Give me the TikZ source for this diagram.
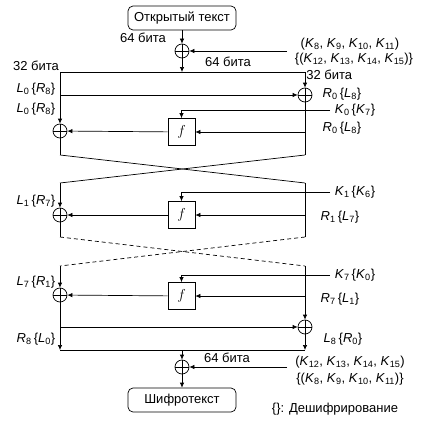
\documentclass[tikz,border=0pt]{standalone}
\usepackage{fontspec}
\setmainfont{Liberation Sans}
\usetikzlibrary{arrows.meta}
\tikzset{
 xor/.style={circle,draw,minimum size=14pt,inner sep=0pt,
   path picture={\draw (path picture bounding box.north)--(path picture bounding box.south)
     (path picture bounding box.west)--(path picture bounding box.east);}},
 fbox/.style={draw,minimum size=27pt,inner sep=0pt,font=\fontsize{14}{16}\selectfont},
 tbox/.style={draw,rounded corners=5pt,minimum width=108pt,minimum height=24pt,inner sep=0pt,font=\fontsize{13}{15}\selectfont},
 lbl/.style={inner sep=0pt,font=\fontsize{13}{15}\selectfont},
 arr/.style={-{Latex[length=5pt,width=4.5pt]}},
}
\newcommand\ix[2]{\textit{#1}\textsubscript{#2}}
\begin{document}
\begin{tikzpicture}[x=1pt,y=-1pt,line width=0.7pt]
\useasboundingbox (0,0) rectangle (425,428);
% nodes
\node[tbox] (pt) at (182,18) {Открытый текст};
\node[xor] (x0) at (182,51) {};
\node[xor] (xR1) at (305,95) {};
\node[xor] (xL1) at (60,131) {};
\node[fbox] (f1) at (181.5,132) {$f$};
\node[xor] (xL2) at (60,215) {};
\node[fbox] (f2) at (181.5,215) {$f$};
\node[xor] (xL3) at (60,295) {};
\node[fbox] (f3) at (181.5,296) {$f$};
\node[xor] (xR3) at (305,327) {};
\node[xor] (x4) at (182,367) {};
\node[tbox] (ct) at (182,400) {Шифротекст};
% coordinates
\coordinate (k0s) at (287,51);
\coordinate (hl) at (60,72);
\coordinate (hm) at (182,72);
\coordinate (hr) at (305,72);
\coordinate (a1) at (60,95);
\coordinate (k0e) at (330,110);
\coordinate (r1) at (305,132);
\coordinate (c1l) at (60,155);
\coordinate (c1r) at (305,155);
\coordinate (c2l) at (60,183);
\coordinate (c2r) at (305,183);
\coordinate (k1e) at (330,192);
\coordinate (r2) at (305,215);
\coordinate (c3l) at (60,237);
\coordinate (c3r) at (305,237);
\coordinate (c4l) at (60,266);
\coordinate (c4r) at (305,266);
\coordinate (k7e) at (330,275);
\coordinate (r3) at (305,296);
\coordinate (a3) at (60,327);
\coordinate (bl) at (60,350);
\coordinate (bm) at (182,350);
\coordinate (br) at (305,350);
\coordinate (k4s) at (287,367);
% connectors
\draw[arr] (pt) -- (x0);
\draw[arr] (k0s) -- (x0);
\draw[arr] (x0) -- (hm);
\draw (hl) -- (hr);
\draw[arr] (hl) -- (xL1);
\draw[arr] (hr) -- (xR1);
\draw[arr] (a1) -- (xR1);
\draw[arr] (k0e) -| (f1);
\draw[arr] (r1) -- (f1);
\draw[arr] (f1) -- (xL1);
\draw (xR1) -- (c1r);
\draw (xL1) -- (c1l);
\draw (c1l) -- (c2r);
\draw (c1r) -- (c2l);
\draw[arr] (c2l) -- (xL2);
\draw (c2r) -- (c3r);
\draw[arr] (k1e) -| (f2);
\draw[arr] (r2) -- (f2);
\draw[arr] (f2) -- (xL2);
\draw (xL2) -- (c3l);
\draw[dash pattern=on 4pt off 3pt] (c3l) -- (c4r);
\draw[dash pattern=on 4pt off 3pt] (c3r) -- (c4l);
\draw[arr] (c4l) -- (xL3);
\draw[arr] (c4r) -- (xR3);
\draw[arr] (k7e) -| (f3);
\draw[arr] (r3) -- (f3);
\draw[arr] (f3) -- (xL3);
\draw[arr] (xL3) -- (bl);
\draw[arr] (a3) -- (xR3);
\draw[arr] (xR3) -- (br);
\draw (bl) -- (br);
\draw[arr] (bm) -- (x4);
\draw[arr] (k4s) -- (x4);
\draw[arr] (x4) -- (ct);
% labels
\node[lbl] (t1) at (143,38) {64 бита};
\node[lbl] (t2) at (228,62) {64 бита};
\node[lbl] (k1a) at (350,44) {(\ix{K}{8}, \ix{K}{9}, \ix{K}{10}, \ix{K}{11})};
\node[lbl] (k1b) at (354,59) {\{(\ix{K}{12}, \ix{K}{13}, \ix{K}{14}, \ix{K}{15})\}};
\node[lbl] (t3) at (36,66) {32 бита};
\node[lbl,anchor=west] (t4) at (306,75) {32 бита};
\node[lbl] (l0a) at (36,89) {\ix{L}{0}\,\{\ix{R}{8}\}};
\node[lbl] (l0b) at (36,109) {\ix{L}{0}\,\{\ix{R}{8}\}};
\node[lbl] (r0a) at (342,94) {\ix{R}{0}\,\{\ix{L}{8}\}};
\node[lbl] (kk0) at (355,110) {\ix{K}{0}\,\{\ix{K}{7}\}};
\node[lbl] (r0b) at (342,128) {\ix{R}{0}\,\{\ix{L}{8}\}};
\node[lbl] (l1) at (36,201) {\ix{L}{1}\,\{\ix{R}{7}\}};
\node[lbl] (kk1) at (355,192) {\ix{K}{1}\,\{\ix{K}{6}\}};
\node[lbl] (r1l) at (340,217) {\ix{R}{1}\,\{\ix{L}{7}\}};
\node[lbl] (l7) at (36,282) {\ix{L}{7}\,\{\ix{R}{1}\}};
\node[lbl] (kk7) at (355,275) {\ix{K}{7}\,\{\ix{K}{0}\}};
\node[lbl] (r7) at (340,299) {\ix{R}{7}\,\{\ix{L}{1}\}};
\node[lbl] (r8) at (36,339) {\ix{R}{8}\,\{\ix{L}{0}\}};
\node[lbl] (l8) at (343,339) {\ix{L}{8}\,\{\ix{R}{0}\}};
\node[lbl] (t5) at (227,358) {64 бита};
\node[lbl] (k4a) at (350,362) {(\ix{K}{12}, \ix{K}{13}, \ix{K}{14}, \ix{K}{15})};
\node[lbl] (k4b) at (350,379) {\{(\ix{K}{8}, \ix{K}{9}, \ix{K}{10}, \ix{K}{11})\}};
\node[lbl] (dec) at (335,409) {\{\}: Дешифрирование};
\end{tikzpicture}
\end{document}
